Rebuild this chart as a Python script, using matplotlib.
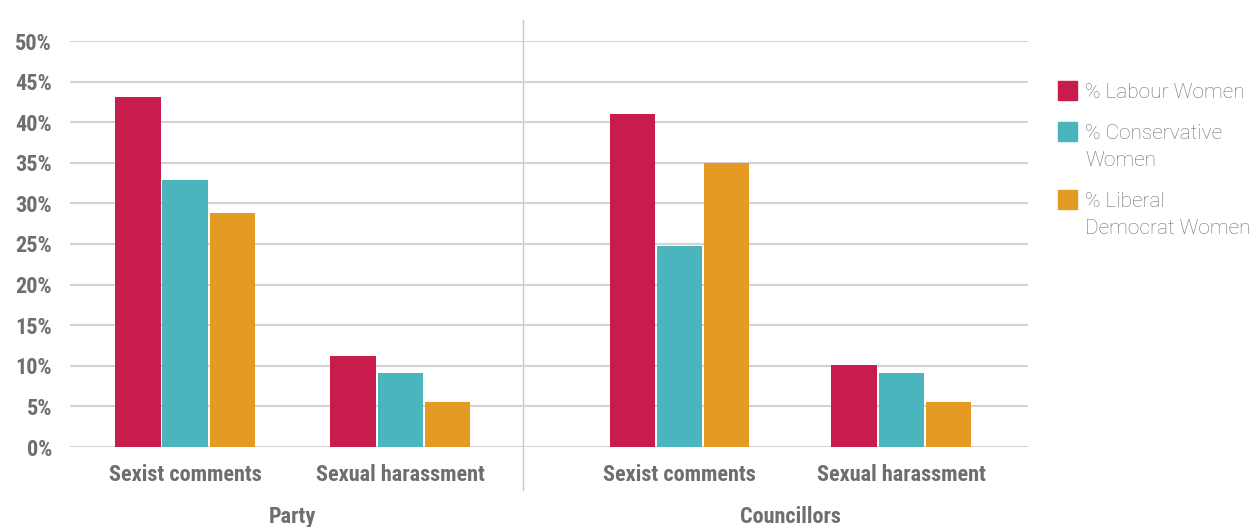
import numpy as np
import matplotlib
matplotlib.use("Agg")
import matplotlib.pyplot as plt
from matplotlib import font_manager
from matplotlib.patches import Rectangle
from matplotlib.transforms import blended_transform_factory

groups = ["Party", "Councillors"]
categories = ["Sexist comments", "Sexual harassment", "Sexist comments", "Sexual harassment"]
series = ["% Labour Women", "% Conservative\nWomen", "% Liberal\nDemocrat Women"]
labour = [43.1, 11.2, 41.0, 10.1]
conservative = [32.9, 9.1, 24.8, 9.1]
libdem = [28.8, 5.5, 35.0, 5.5]
yticks = [0, 5, 10, 15, 20, 25, 30, 35, 40, 45, 50]

colors = ["#C71C4C", "#4BB5BE", "#E59A23"]
grey = "#6D6E71"


def pick_font(names):
    for n in names:
        try:
            font_manager.findfont(font_manager.FontProperties(family=n), fallback_to_default=False)
            return n
        except Exception:
            pass
    return "DejaVu Sans"


cond = pick_font(["Liberation Sans Narrow", "Roboto Condensed", "DejaVu Sans"])
light = pick_font(["Roboto", "Lato", "Open Sans"])

W, H = 1252, 527
fig = plt.figure(figsize=(W / 100, H / 100), dpi=100)
ax = fig.add_axes([70 / W, (H - 447) / H, (1028 - 70) / W, (447 - 41) / H])

# category centres (in units of ~215 px)
xpos = np.array([0.0, 1.0, 2.30, 3.33])
bw = 0.21
step = 0.219
for i, vals in enumerate([labour, conservative, libdem]):
    ax.bar(xpos + (i - 1) * step, vals, width=bw, color=colors[i], zorder=3)

ax.set_xlim(-0.535, 3.92)
ax.set_ylim(0, 50)
ax.set_yticks(yticks)
ax.set_yticklabels(["%d%%" % v for v in yticks], fontfamily=cond, fontweight="bold",
                   fontsize=16, color=grey)
ax.set_xticks(xpos)
ax.set_xticklabels(categories, fontfamily=cond, fontweight="bold", fontsize=16, color=grey)
ax.tick_params(axis="both", length=0)
ax.tick_params(axis="y", pad=13)
ax.tick_params(axis="x", pad=12)
ax.grid(axis="y", color="#D3D3D3", linewidth=1.5, zorder=0)
for s in ax.spines.values():
    s.set_visible(False)

# separator between groups
sep = 1.572
ax.plot([sep, sep], [-5.3, 52.6], color="#C8C8C8", linewidth=1, clip_on=False, zorder=1)

tr = blended_transform_factory(ax.transData, fig.transFigure)
ax.text((xpos[0] + xpos[1]) / 2, 1 - 517 / H, groups[0], transform=tr, ha="center", va="center",
        fontfamily=cond, fontweight="bold", fontsize=16, color=grey)
ax.text((xpos[2] + xpos[3]) / 2, 1 - 517 / H, groups[1], transform=tr, ha="center", va="center",
        fontfamily=cond, fontweight="bold", fontsize=16, color=grey)

# legend, drawn by hand
box_y = [90, 131, 199.5]
line_gap = 27.5
for i, lab in enumerate(series):
    fig.patches.append(Rectangle((1058 / W, 1 - (box_y[i] + 9.5) / H), 19 / W, 19 / H,
                                 transform=fig.transFigure, color=colors[i]))
    for k, part in enumerate(lab.split("\n")):
        yc = box_y[i] + 2 + k * line_gap
        fig.text(1085 / W, 1 - yc / H, part, ha="left", va="center", fontfamily=light,
                 fontweight="light", fontsize=15, color=grey)

fig.savefig("out.png", dpi=100)
